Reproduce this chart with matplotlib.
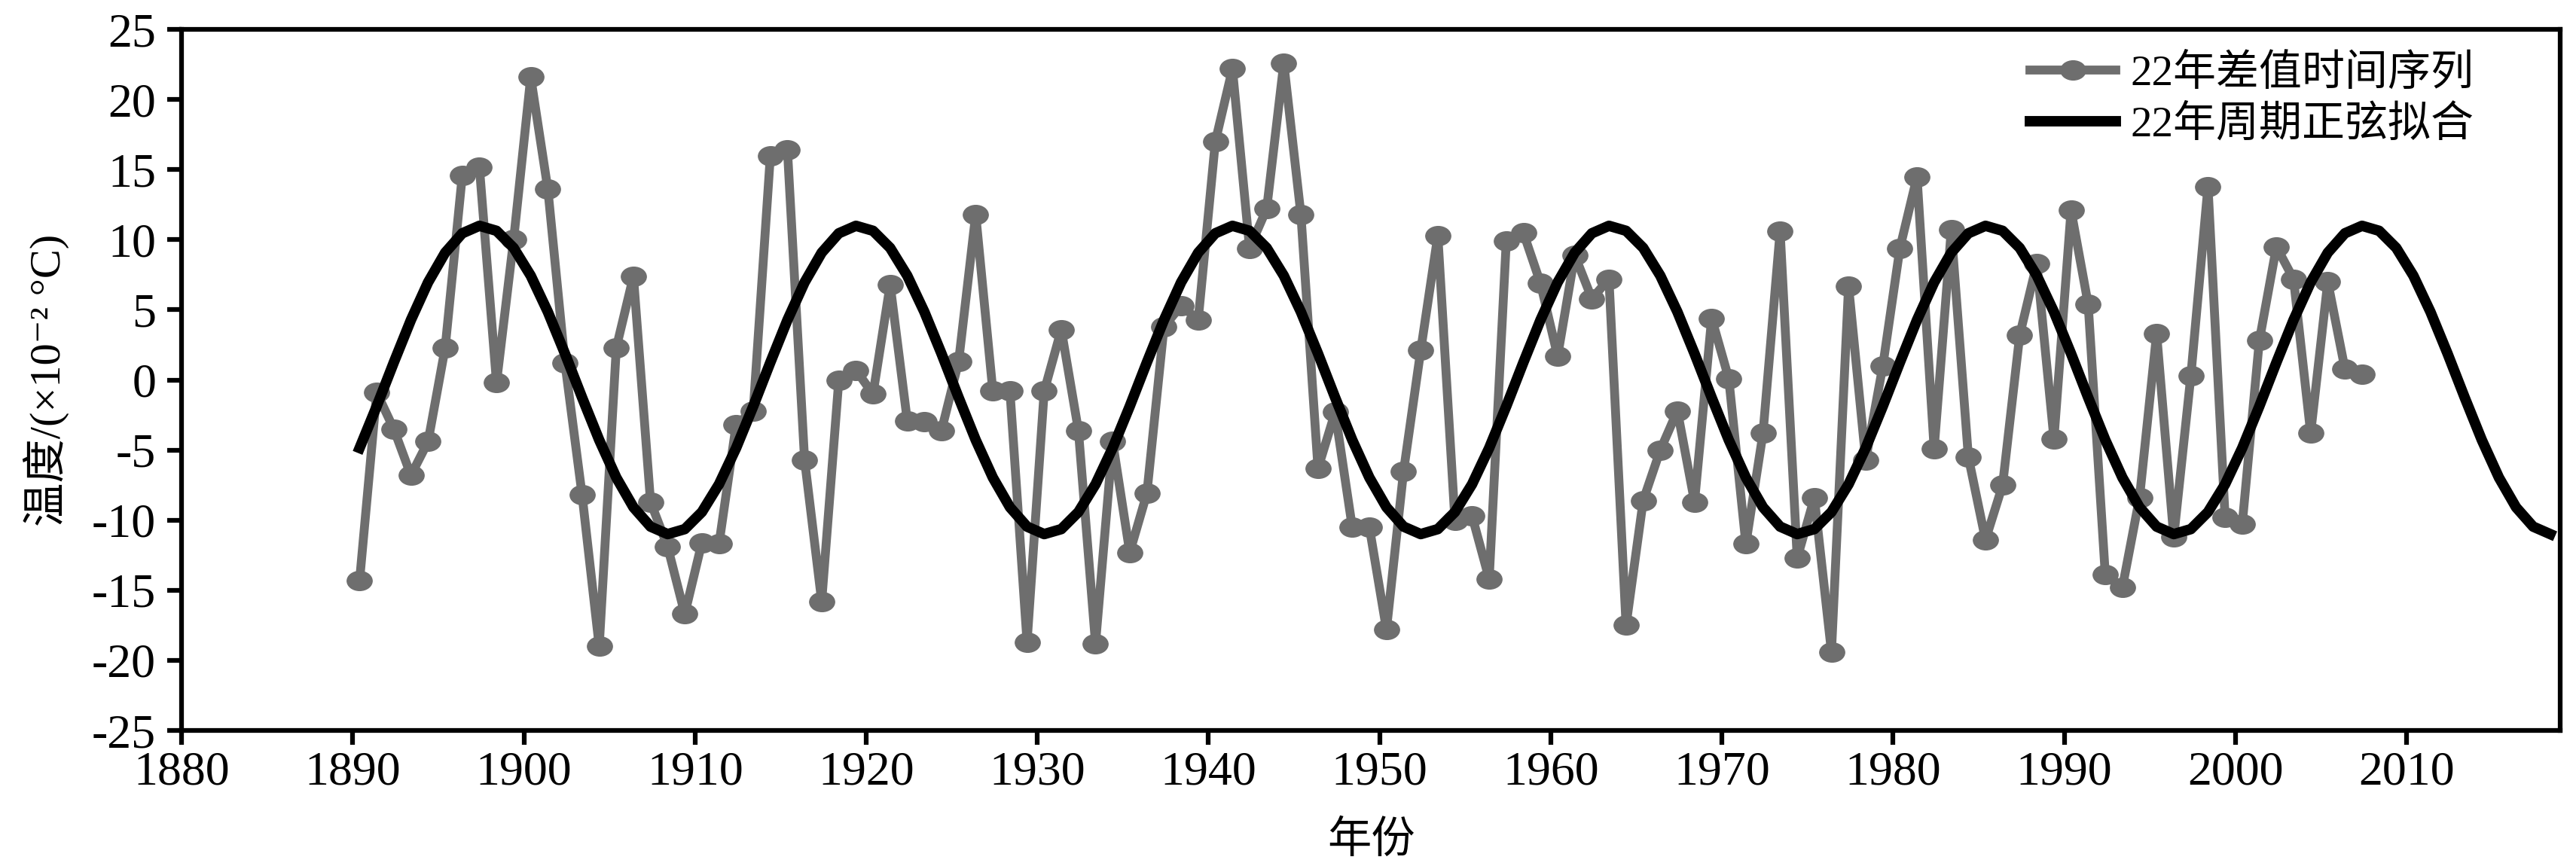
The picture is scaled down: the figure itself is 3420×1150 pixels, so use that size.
import matplotlib
matplotlib.use('Agg')
import matplotlib.pyplot as plt
from matplotlib.path import Path
import numpy as np

plt.rcParams['font.family'] = ['Liberation Serif', 'Noto Sans CJK SC', 'DejaVu Sans']
plt.rcParams['axes.unicode_minus'] = False

# yearly 22-year difference series (x10^-2 C), 1890-2007
years = np.arange(1890, 2008)
diff_1890s = [-14.3, -0.9, -3.5, -6.8, -4.4, 2.3, 14.6, 15.2, -0.2, 10.0]
diff_1900s = [21.6, 13.6, 1.2, -8.2, -19.0, 2.3, 7.4, -8.7, -11.9, -16.7]
diff_1910s = [-11.6, -11.7, -3.2, -2.2, 16.0, 16.4, -5.7, -15.8, 0.0, 0.7]
diff_1920s = [-1.0, 6.8, -2.9, -3.0, -3.6, 1.3, 11.8, -0.8, -0.8, -18.7]
diff_1930s = [-0.8, 3.6, -3.6, -18.8, -4.4, -12.3, -8.1, 3.8, 5.3, 4.3]
diff_1940s = [17.0, 22.2, 9.4, 12.2, 22.6, 11.8, -6.3, -2.3, -10.5, -10.5]
diff_1950s = [-17.8, -6.5, 2.1, 10.3, -10.0, -9.7, -14.2, 9.9, 10.5, 6.9]
diff_1960s = [1.7, 8.9, 5.8, 7.2, -17.5, -8.6, -5.0, -2.2, -8.7, 4.4]
diff_1970s = [0.1, -11.7, -3.8, 10.6, -12.7, -8.4, -19.4, 6.7, -5.7, 1.0]
diff_1980s = [9.4, 14.5, -4.9, 10.7, -5.5, -11.4, -7.5, 3.2, 8.3, -4.2]
diff_1990s = [12.1, 5.4, -13.9, -14.8, -8.4, 3.3, -11.2, 0.3, 13.8, -9.8]
diff_2000s = [-10.3, 2.8, 9.5, 7.2, -3.8, 7.0, 0.8, 0.4]
diff_values = (diff_1890s + diff_1900s + diff_1910s + diff_1920s + diff_1930s
               + diff_1940s + diff_1950s + diff_1960s + diff_1970s + diff_1980s
               + diff_1990s + diff_2000s)

# 22-year sine fit parameters
fit_amplitude = 11.0
fit_period = 22.0
fit_peak_year = 1897.5
fit_years = np.arange(1890, 2019)

label_series = '22年差值时间序列'
label_fit = '22年周期正弦拟合'
x_label = '年份'
y_label = '温度/(×10⁻² °C)'

x_offset = 0.4  # points sit a bit right of the year tick
gray = '#6e6e6e'

# slightly flattened round marker like in the original
circ = Path.unit_circle()
ellipse = Path(circ.vertices * np.array([1.3, 1.0]), circ.codes)

fig = plt.figure(figsize=(34.2, 11.5), dpi=100)
ax = fig.add_subplot(1, 1, 1)
fig.subplots_adjust(left=0.0705, right=0.994, top=0.966, bottom=0.1565)

xs = years + x_offset
ax.plot(xs, diff_values, color=gray, lw=8.5, marker=ellipse, ms=24,
        label=label_series, zorder=2)

fx = fit_years + x_offset
fy = fit_amplitude * np.cos(2 * np.pi * (fx - fit_peak_year) / fit_period)
ax.plot(fx, fy, color='black', lw=10, label=label_fit, zorder=3)

ax.set_xlim(1880, 2019)
ax.set_ylim(-25, 25)
ax.set_xticks(np.arange(1880, 2011, 10))
ax.set_yticks(np.arange(-25, 26, 5))

for s in ax.spines.values():
    s.set_linewidth(4.5)
ax.tick_params(axis='both', direction='out', length=13.5, width=4.5, labelsize=46)
ax.tick_params(axis='x', pad=6)
ax.tick_params(axis='y', pad=11)

ax.set_xlabel(x_label, fontsize=42)
ax.set_ylabel(y_label, fontsize=42)
ax.xaxis.set_label_coords(0.5, -0.158)
ax.xaxis.label.set_va('center')
ax.yaxis.set_label_coords(-0.0568, 0.5)
ax.yaxis.label.set_va('center')

ax.legend(loc='upper left', bbox_to_anchor=(0.777, 0.965), frameon=False,
          fontsize=41, handlelength=2.0, handletextpad=0.35, labelspacing=0.25,
          borderpad=0, borderaxespad=0)

fig.savefig('out.png', dpi=100)
